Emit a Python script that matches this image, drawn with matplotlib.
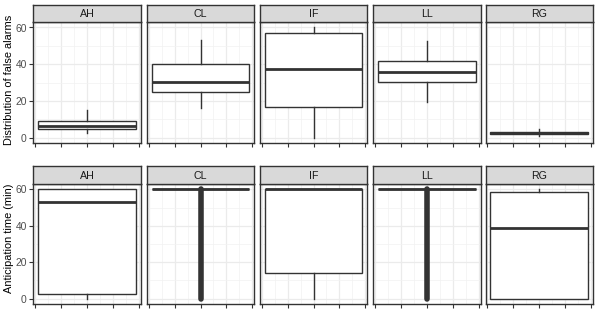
import matplotlib
matplotlib.use("Agg")
import matplotlib.pyplot as plt
from matplotlib.ticker import MultipleLocator, NullFormatter

plt.rcParams['font.family'] = ['Liberation Sans', 'DejaVu Sans']

groups = ["AH", "CL", "IF", "LL", "RG"]

# Row 1: Distribution of false alarms
fa_whislo = [2.2, 16.2, 0.0, 19.3, 0.8]
fa_q1     = [4.8, 24.8, 16.7, 30.1, 2.0]
fa_med    = [6.3, 30.5, 37.6, 36.0, 2.5]
fa_q3     = [8.8, 40.2, 57.1, 41.5, 3.0]
fa_whishi = [15.0, 53.0, 60.0, 52.8, 4.8]

# Row 2: Anticipation time (min)
at_whislo = [0.0, 60.0, 0.0, 60.0, 0.0]
at_q1     = [2.7, 60.0, 14.0, 60.0, 0.0]
at_med    = [52.9, 60.0, 60.0, 60.0, 38.8]
at_q3     = [60.0, 60.0, 60.0, 60.0, 58.8]
at_whishi = [60.0, 60.0, 60.0, 60.0, 60.0]
at_out_lo = [None, 0.0, None, 0.0, None]
at_out_hi = [None, 60.0, None, 60.0, None]

rows = [
    ("Distribution of false alarms", fa_whislo, fa_q1, fa_med, fa_q3, fa_whishi, [None]*5, [None]*5),
    ("Anticipation time (min)", at_whislo, at_q1, at_med, at_q3, at_whishi, at_out_lo, at_out_hi),
]

W, H = 598, 324
fig = plt.figure(figsize=(W/100, H/100), dpi=100)

col_x = [(33, 141), (147, 254), (260, 367), (373, 480.5), (485.5, 593)]
row_y = [((4.5, 22), (22, 143)), ((166, 184), (184, 304))]
label_y = [80, 238]

dark = "#333333"
for r, (label, wlo, q1, med, q3, whi, olo, ohi) in enumerate(rows):
    (st, sb), (pt, pb) = row_y[r]
    fig.text(9/W, 1 - label_y[r]/H, label, rotation=90, ha="center", va="center",
             fontsize=7.9, color="black")
    for c, g in enumerate(groups):
        x0, x1 = col_x[c]
        ax = fig.add_axes([x0/W, 1 - pb/H, (x1-x0)/W, (pb-pt)/H])
        sax = fig.add_axes([x0/W, 1 - sb/H, (x1-x0)/W, (sb-st)/H])
        sax.set_facecolor("#D9D9D9")
        sax.set_xticks([]); sax.set_yticks([])
        for s in sax.spines.values():
            s.set_color(dark); s.set_linewidth(1.0)
        sax.text(0.5, 0.45, g, ha="center", va="center", fontsize=7.7, color="#1A1A1A",
                 transform=sax.transAxes)

        stats = [dict(whislo=wlo[c], q1=q1[c], med=med[c], q3=q3[c], whishi=whi[c], fliers=[])]
        ax.bxp(stats, positions=[0], widths=0.75, showcaps=False, patch_artist=True,
               boxprops=dict(facecolor="white", edgecolor=dark, linewidth=1.0),
               whiskerprops=dict(color=dark, linewidth=1.0),
               medianprops=dict(color=dark, linewidth=2.0),
               showfliers=False, manage_ticks=False, zorder=3)
        if olo[c] is not None:
            ax.vlines([0], olo[c], ohi[c], color=dark, linewidth=4.0, capstyle="round", zorder=2)

        ax.set_xlim(-0.4125, 0.4125)
        ax.set_ylim(-3, 63)
        ax.xaxis.set_major_locator(MultipleLocator(0.2))
        ax.xaxis.set_minor_locator(MultipleLocator(0.1))
        ax.yaxis.set_major_locator(MultipleLocator(20))
        ax.yaxis.set_minor_locator(MultipleLocator(10))
        ax.xaxis.set_major_formatter(NullFormatter())
        ax.grid(which="major", color="#EBEBEB", linewidth=0.9, zorder=0)
        ax.grid(which="minor", color="#F2F2F2", linewidth=0.5, zorder=0)
        ax.set_axisbelow(True)
        ax.tick_params(which="minor", length=0)
        ax.tick_params(which="major", length=3, width=0.8, color=dark, labelsize=7.4,
                       labelcolor="#4D4D4D", pad=1.5)
        for s in ax.spines.values():
            s.set_color(dark); s.set_linewidth(1.0)
        if c != 0:
            ax.yaxis.set_major_formatter(NullFormatter())
            ax.tick_params(axis="y", which="major", length=0)

fig.savefig("out.png", dpi=100)
